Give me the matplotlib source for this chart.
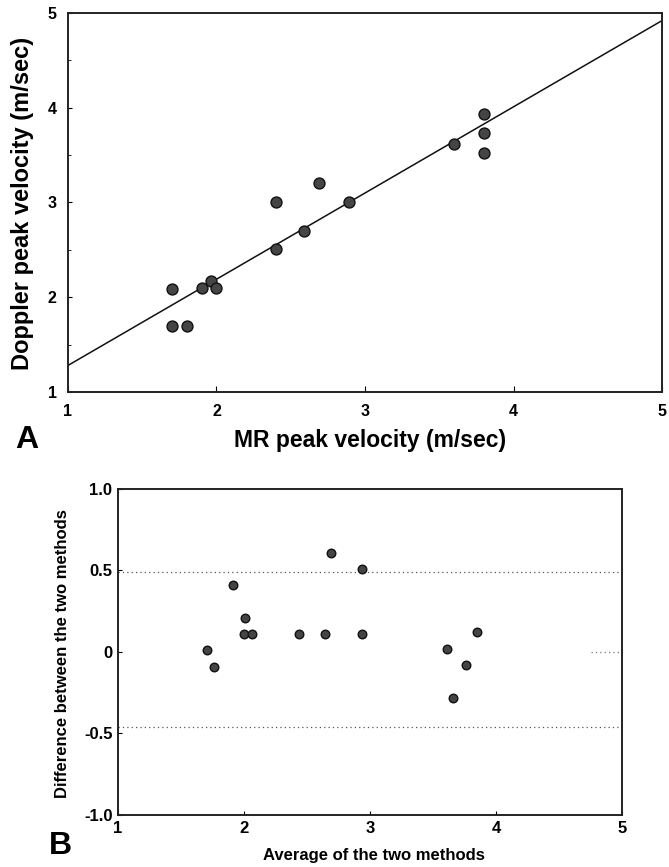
import matplotlib
matplotlib.use("Agg")
import matplotlib.pyplot as plt
import numpy as np
from matplotlib.ticker import MultipleLocator

plt.rcParams['font.family'] = ['Liberation Sans', 'DejaVu Sans']

# Panel A data
mr = [1.70, 1.70, 1.80, 1.90, 1.96, 2.00, 2.40, 2.40, 2.59, 2.69, 2.89, 3.60, 3.80, 3.80, 3.80]
doppler = [2.09, 1.70, 1.70, 2.10, 2.17, 2.10, 3.01, 2.51, 2.70, 3.21, 3.01, 3.62, 3.93, 3.73, 3.52]
fit_slope = 0.91
fit_intercept = 0.37

# Panel B data
avg = [1.71, 1.76, 1.91, 2.01, 2.00, 2.06, 2.44, 2.64, 2.69, 2.94, 2.94, 3.61, 3.66, 3.76, 3.85]
diff = [0.01, -0.09, 0.41, 0.21, 0.11, 0.11, 0.11, 0.11, 0.61, 0.51, 0.11, 0.02, -0.28, -0.08, 0.12]
limits = [0.49, -0.46]

a_ticks = [1, 2, 3, 4, 5]
b_yticks = [1.0, 0.5, 0.0, -0.5, -1.0]
b_yticklabels = ["1.0", "0.5", "0", "-0.5", "-1.0"]

fig = plt.figure(figsize=(6.69, 8.67), dpi=100)

# ---- Panel A ----
axA = fig.add_axes([0.1016, 0.5479, 0.888, 0.4371])
axA.set_xlim(1, 5)
axA.set_ylim(1, 5)
xs = np.array([1, 5])
axA.plot(xs, fit_slope * xs + fit_intercept, color='#111111', lw=1.1)
axA.scatter(mr, doppler, s=62, color='#454545', edgecolors='#111111', linewidths=1.0, zorder=3)
axA.set_xticks(a_ticks)
axA.set_yticks(a_ticks)
axA.yaxis.set_minor_locator(MultipleLocator(0.5))
axA.set_xticklabels([str(t) for t in a_ticks], fontsize=11.5, fontweight='bold')
axA.set_yticklabels([str(t) for t in a_ticks], fontsize=11.5, fontweight='bold')
axA.tick_params(axis='x', direction='in', length=4, width=0.8, pad=9)
axA.tick_params(axis='y', direction='in', length=3, width=0.8, pad=8)
axA.tick_params(axis='y', which='minor', direction='in', length=2, width=0.6)
for sp in axA.spines.values():
    sp.set_linewidth(1.4)
    sp.set_color('#222222')
fig.text(0.033, 0.765, "Doppler peak velocity (m/sec)", rotation=90, ha='center', va='center',
         fontsize=17, fontweight='bold')
fig.text(0.553, 0.4925, "MR peak velocity (m/sec)", ha='center', va='center', fontsize=16.5,
         fontweight='bold')
fig.text(0.040, 0.4925, "A", ha='center', va='center', fontsize=23, fontweight='bold')

# ---- Panel B ----
axB = fig.add_axes([0.1764, 0.06, 0.7534, 0.376])
axB.set_xlim(1, 5)
axB.set_ylim(-1.0, 1.0)
for lv in limits:
    axB.axhline(lv, color='#555555', lw=0.9, ls=(0, (1, 2.5)))
axB.plot([4.75, 5.0], [0, 0], color='#777777', lw=0.9, ls=(0, (1, 2.5)))
axB.scatter(avg, diff, s=38, color='#454545', edgecolors='#111111', linewidths=1.0, zorder=3)
axB.set_xticks(a_ticks)
axB.set_xticklabels([str(t) for t in a_ticks], fontsize=12, fontweight='bold')
axB.set_yticks(b_yticks)
axB.set_yticklabels(b_yticklabels, fontsize=12, fontweight='bold')
axB.tick_params(axis='x', direction='in', length=3, width=0.8, pad=4)
axB.tick_params(axis='y', direction='in', length=3, width=0.8, pad=4)
for sp in axB.spines.values():
    sp.set_linewidth(1.4)
    sp.set_color('#222222')
fig.text(0.0927, 0.2457, "Difference between the two methods", rotation=90, ha='center', va='center',
         fontsize=12, fontweight='bold')
fig.text(0.559, 0.0127, "Average of the two methods", ha='center', va='center', fontsize=12,
         fontweight='bold')
fig.text(0.091, 0.0242, "B", ha='center', va='center', fontsize=23, fontweight='bold')

fig.savefig("out.png", dpi=100)
